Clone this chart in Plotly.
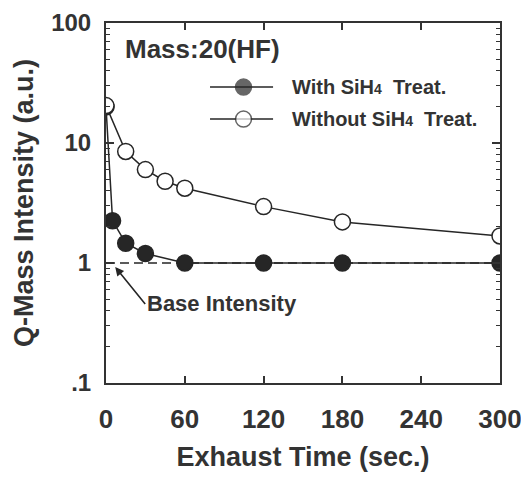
import plotly.graph_objects as go

# ---- data ----
time_with = [0, 5, 15, 30, 60, 120, 180, 300]
with_sih4 = [20, 2.25, 1.46, 1.2, 1.0, 1.0, 1.0, 1.0]
time_without = [0, 15, 30, 45, 60, 120, 180, 300]
without_sih4 = [20.5, 8.5, 6.0, 4.8, 4.2, 2.95, 2.2, 1.68]
base_x = [0, 300]
base_y = [1, 1]
x_ticks = [0, 60, 120, 180, 240, 300]
y_ticks = [0.1, 1, 10, 100]
y_tick_text = [".1", "1", "10", "100"]
legend_names = ["With SiH<span style='font-size:14px'>4</span>  Treat.",
                "Without SiH<span style='font-size:14px'>4</span>  Treat."]

INK = "#262626"
TXT = "#333333"
FONT = "Liberation Sans, Arial, Helvetica, sans-serif"

fig = go.Figure()

# base intensity dashed line
fig.add_trace(go.Scatter(x=base_x, y=base_y, mode="lines",
                         line=dict(color=INK, width=1.5, dash="9px,5px"),
                         showlegend=False, hoverinfo="skip"))
# with SiH4 (filled)
fig.add_trace(go.Scatter(x=time_with, y=with_sih4, mode="lines+markers",
                         line=dict(color=INK, width=1.5),
                         marker=dict(size=16, color=INK, line=dict(color=INK, width=1.5)),
                         name=legend_names[0], showlegend=False))
# without SiH4 (open)
fig.add_trace(go.Scatter(x=time_without, y=without_sih4, mode="lines+markers",
                         line=dict(color=INK, width=1.5),
                         marker=dict(size=16, color="white", line=dict(color=INK, width=1.5)),
                         name=legend_names[1], showlegend=False))

# custom legend samples drawn on a hidden overlay axis (0..1 of plot area)
leg_rows = [0.822, 0.733]
leg_fill = [INK, "white"]
for row, fill, name in zip(leg_rows, leg_fill, legend_names):
    fig.add_trace(go.Scatter(x=[0.264, 0.349, 0.424], y=[row, row, row],
                             xaxis="x2", yaxis="y2", mode="lines+markers",
                             line=dict(color=INK, width=1.5),
                             marker=dict(size=[0, 16, 0], color=fill,
                                         line=dict(color=INK, width=[0, 1.5, 0])),
                             showlegend=False, hoverinfo="skip"))
    fig.add_annotation(x=0.467, y=row, xref="x2", yref="y2", text="<b>" + name + "</b>",
                       showarrow=False, xanchor="left", yanchor="middle",
                       font=dict(family=FONT, size=20, color=TXT))

fig.add_annotation(x=0.043, y=0.928, xref="x2", yref="y2", text="<b>Mass:20(HF)</b>",
                   showarrow=False, xanchor="left", yanchor="middle",
                   font=dict(family=FONT, size=26, color=TXT))

fig.add_annotation(x=7, y=-0.033, xref="x", yref="y", text="<b>Base Intensity</b>",
                   showarrow=True, arrowhead=2, arrowsize=1.1, arrowwidth=1.6,
                   arrowcolor=INK, ax=30, ay=37, xanchor="left", yanchor="middle",
                   font=dict(family=FONT, size=22, color=TXT))

axis_common = dict(showline=True, linewidth=2, linecolor="#333333", mirror="ticks",
                   ticks="inside", tickcolor="#333333", tickwidth=1.5,
                   showgrid=False, zeroline=False, automargin=False)

# the page body adds an 8px offset, so the figure is sized to fit the window
fig.update_layout(
    width=521, height=475,
    margin=dict(l=98, r=29, t=15, b=100),
    paper_bgcolor="white", plot_bgcolor="white",
    font=dict(family=FONT, color=TXT),
    xaxis=dict(range=[0, 300], tickvals=x_ticks, ticklen=7,
               tickfont=dict(size=26, family=FONT, color=TXT, weight="bold"),
               ticklabelstandoff=12,
               title=dict(text="<b>Exhaust Time (sec.)</b>", standoff=14,
                          font=dict(size=27, family=FONT, color=TXT)),
               **axis_common),
    yaxis=dict(type="log", range=[-1, 2], tickvals=y_ticks, ticktext=y_tick_text,
               ticklen=8,
               minor=dict(ticks="inside", ticklen=4, tickcolor="#333333", tickwidth=1.2,
                          dtick="D1", showgrid=False),
               tickfont=dict(size=24, family=FONT, color=TXT, weight="bold"),
               ticklabelstandoff=8,
               title=dict(text="<b>Q-Mass Intensity (a.u.)</b>", standoff=10,
                          font=dict(size=27, family=FONT, color=TXT)),
               **axis_common),
    xaxis2=dict(range=[0, 1], overlaying="x", visible=False, fixedrange=True),
    yaxis2=dict(range=[0, 1], overlaying="y", visible=False, fixedrange=True),
)

fig.write_html("out.html")
